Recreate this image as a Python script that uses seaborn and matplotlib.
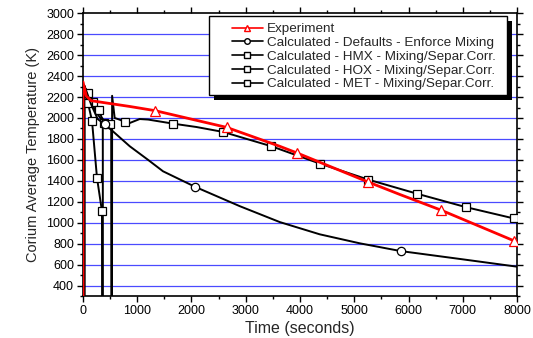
import numpy as np
import pandas as pd
import seaborn as sns
import matplotlib
matplotlib.use("Agg")
import matplotlib.pyplot as plt
from matplotlib.lines import Line2D
from matplotlib.patches import Rectangle
from matplotlib.ticker import MultipleLocator

sns.set_style("ticks")
plt.rcParams['font.family'] = ['Liberation Sans', 'DejaVu Sans']

# ---------------- data ----------------
exp_t = [0, 0, 60, 150, 862, 1330, 2650, 3625, 3950, 5250, 5838, 6600, 7940]
exp_T = [250, 2345, 2210, 2165, 2110, 2070, 1910, 1730, 1665, 1390, 1270, 1120, 828]
exp_mark = [5, 6, 8, 9, 11, 12]

def_t = [25, 25, 60, 150, 271, 400, 553, 862, 1200, 1475, 2065, 2889, 3627, 4364, 5102, 5856, 7000, 8000]
def_T = [250, 2310, 2260, 2130, 1990, 1940, 1872, 1730, 1600, 1491, 1343, 1158, 1006, 889, 803, 729, 650, 580]
def_mark = [5, 10, 15]

hmx_t = [20, 20, 45, 92, 166, 258, 350, 352]
hmx_T = [250, 2300, 2240, 2143, 1974, 1429, 1110, 250]
hmx_mark = [3, 4, 5, 6]

hox_t = [28, 28, 50, 92, 184, 295, 340, 365, 367]
hox_T = [250, 2290, 2280, 2238, 2152, 2079, 2010, 1990, 250]
hox_mark = [3, 4, 5]

met_t = [32, 60, 120, 250, 387, 492, 520, 522, 535, 537, 584, 676, 769, 861, 1045, 1200,
         1660, 2090, 2581, 3473, 4363, 5254, 6163, 7054, 7939, 8000]
met_T = [2280, 2250, 2180, 2050, 1952, 1946, 1940, 250, 250, 2212, 2000, 1984, 1962, 1952, 1990, 1985,
         1946, 1914, 1867, 1730, 1565, 1412, 1276, 1149, 1041, 1035]
met_mark = [4, 5, 12, 16, 18, 19, 20, 21, 22, 23, 24]

labels = ["Experiment",
          "Calculated - Defaults - Enforce Mixing",
          "Calculated - HMX - Mixing/Separ.Corr.",
          "Calculated - HOX - Mixing/Separ.Corr.",
          "Calculated - MET - Mixing/Separ.Corr."]

xticks = list(range(0, 8001, 1000))
yticks = list(range(400, 3001, 200))

# ---------------- figure ----------------
fig = plt.figure(figsize=(5.33, 3.38), dpi=100)
ax = fig.add_axes([0.1557, 0.1243, 0.8143, 0.8364])

grid_c = '#4a4aff'
for y in range(400, 2801, 200):
    ax.axhline(y, color=grid_c, lw=0.9, zorder=0.5)

blk = dict(color='black', lw=1.4, mfc='white', mec='black', mew=0.9)

series = [
    (met_t, met_T, met_mark, 's', 6),
    (hox_t, hox_T, hox_mark, 's', 6),
    (hmx_t, hmx_T, hmx_mark, 's', 6),
    (def_t, def_T, def_mark, 'o', 6),
]
for t, T, mk, m, ms in series:
    df = pd.DataFrame({'t': t, 'T': T})
    sns.lineplot(data=df, x='t', y='T', sort=False, estimator=None, ax=ax,
                 marker=m, markevery=mk, markersize=ms, zorder=3, legend=False, **blk)

dfe = pd.DataFrame({'t': exp_t, 'T': exp_T})
sns.lineplot(data=dfe, x='t', y='T', sort=False, estimator=None, ax=ax,
             color='#ff0000', lw=2.0, marker='^', markevery=exp_mark, markersize=7,
             mfc='white', mec='#ff0000', mew=0.9, zorder=4, legend=False)

ax.set_xlim(0, 8000)
ax.set_ylim(300, 3000)
ax.set_xticks(xticks)
ax.set_yticks(yticks)
ax.xaxis.set_minor_locator(MultipleLocator(500))
ax.yaxis.set_minor_locator(MultipleLocator(100))
ax.tick_params(which='both', direction='out', top=True, right=True, labeltop=False, labelright=False,
               width=1.0, colors='black', labelsize=9, pad=2)
ax.tick_params(which='major', length=4.5)
ax.tick_params(which='minor', length=2.5)
for s in ax.spines.values():
    s.set_linewidth(1.2)
    s.set_color('black')
ax.set_xlabel("Time (seconds)", fontsize=11.5, labelpad=3)
ax.set_ylabel("Corium Average Temperature (K)", fontsize=10.5, labelpad=4)

# legend box (frame + solid black shadow), drawn at the reference's position
fx0, fx1, fy0, fy1 = 0.2903, 0.977, 0.711, 0.990
sh = 5 / 434.0
shv = 5 / 282.7
ax.add_patch(Rectangle((fx0 + sh, fy0 - shv), fx1 - fx0, fy1 - fy0, transform=ax.transAxes,
                       facecolor='black', edgecolor='none', clip_on=False, zorder=5.8))
ax.add_patch(Rectangle((fx0, fy0), fx1 - fx0, fy1 - fy0, transform=ax.transAxes,
                       facecolor='white', edgecolor='black', lw=1.0, clip_on=False, zorder=5.9))

handles = [Line2D([], [], color='#ff0000', lw=1.2, marker='^', ms=5, mfc='white', mec='#ff0000'),
           Line2D([], [], color='black', lw=1.2, marker='o', ms=4, mfc='white', mec='black'),
           Line2D([], [], color='black', lw=1.2, marker='s', ms=4, mfc='white', mec='black'),
           Line2D([], [], color='black', lw=1.2, marker='s', ms=4, mfc='white', mec='black'),
           Line2D([], [], color='black', lw=1.2, marker='s', ms=4, mfc='white', mec='black')]
leg = ax.legend(handles, labels, loc='upper left', bbox_to_anchor=(0.343, 0.966),
                fontsize=9.7, frameon=False,
                handlelength=2.3, handletextpad=0.3, labelspacing=0.1, borderpad=0.0,
                borderaxespad=0)
leg.set_zorder(6)

fig.savefig("out.png", dpi=100)
